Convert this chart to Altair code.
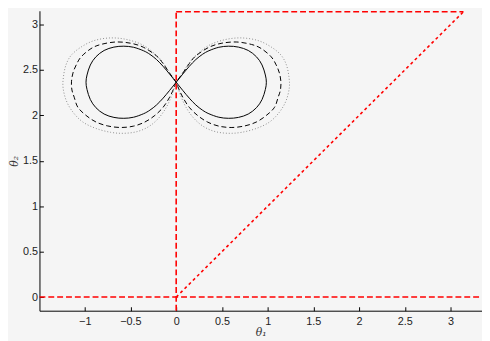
import altair as alt
import pandas as pd

# ---------------- data ----------------
x_ticks = [-1, -0.5, 0, 0.5, 1, 1.5, 2, 2.5, 3]
y_ticks = [0, 0.5, 1, 1.5, 2, 2.5, 3]
x_domain = [-1.495, 3.344]
y_domain = [-0.15, 3.152]

# solid figure-eight (traced: centre -> right lobe -> centre -> left lobe)
solid_x = [0.0, 0.072, 0.143, 0.215, 0.287, 0.358, 0.466, 0.573, 0.681, 0.788, 0.878, 0.939, 0.975, 0.986,
           0.975, 0.939, 0.878, 0.788, 0.681, 0.573, 0.466, 0.358, 0.287, 0.215, 0.143, 0.072,
           0.0, -0.072, -0.143, -0.215, -0.287, -0.358, -0.466, -0.573, -0.681, -0.788, -0.878, -0.939, -0.975, -0.986,
           -0.975, -0.939, -0.878, -0.788, -0.681, -0.573, -0.466, -0.358, -0.287, -0.215, -0.143, -0.072]
solid_y = [2.365, 2.455, 2.54, 2.615, 2.672, 2.712, 2.75, 2.762, 2.752, 2.715, 2.645, 2.555, 2.445, 2.365,
           2.285, 2.175, 2.085, 2.015, 1.978, 1.968, 1.98, 2.018, 2.058, 2.115, 2.19, 2.275,
           2.365, 2.455, 2.54, 2.615, 2.672, 2.712, 2.75, 2.762, 2.752, 2.715, 2.645, 2.555, 2.445, 2.365,
           2.285, 2.175, 2.085, 2.015, 1.978, 1.968, 1.98, 2.018, 2.058, 2.115, 2.19, 2.275]

# dashed figure-eight
dashed_x = [0.0, 0.072, 0.143, 0.215, 0.358, 0.5, 0.663, 0.824, 0.932, 1.039, 1.093, 1.129, 1.145,
            1.14, 1.115, 1.075, 0.986, 0.878, 0.753, 0.609, 0.466, 0.341, 0.233, 0.143, 0.072, 0.025,
            0.0, -0.072, -0.143, -0.215, -0.358, -0.5, -0.663, -0.824, -0.932, -1.039, -1.093, -1.129, -1.145,
            -1.14, -1.115, -1.075, -0.986, -0.878, -0.753, -0.609, -0.466, -0.341, -0.233, -0.143, -0.072, -0.025]
dashed_y = [2.365, 2.465, 2.57, 2.655, 2.75, 2.795, 2.808, 2.781, 2.735, 2.645, 2.556, 2.466, 2.37,
            2.28, 2.2, 2.089, 2.0, 1.928, 1.885, 1.867, 1.882, 1.928, 2.0, 2.089, 2.2, 2.3,
            2.365, 2.465, 2.57, 2.655, 2.75, 2.795, 2.808, 2.781, 2.735, 2.645, 2.556, 2.466, 2.37,
            2.28, 2.2, 2.089, 2.0, 1.928, 1.885, 1.867, 1.882, 1.928, 2.0, 2.089, 2.2, 2.3]

# dotted figure-eight
dotted_x = [0.0, 0.072, 0.143, 0.215, 0.358, 0.538, 0.717, 0.896, 1.039, 1.147, 1.205, 1.232,
            1.237, 1.201, 1.129, 1.022, 0.878, 0.717, 0.573, 0.43, 0.305, 0.197, 0.108, 0.043,
            0.0, -0.072, -0.143, -0.215, -0.358, -0.538, -0.717, -0.896, -1.039, -1.147, -1.205, -1.232,
            -1.237, -1.201, -1.129, -1.022, -0.878, -0.717, -0.573, -0.43, -0.305, -0.197, -0.108, -0.043]
dotted_y = [2.365, 2.47, 2.58, 2.66, 2.771, 2.835, 2.853, 2.824, 2.753, 2.663, 2.556, 2.43,
            2.305, 2.161, 2.036, 1.928, 1.857, 1.814, 1.803, 1.821, 1.874, 1.964, 2.089, 2.233,
            2.365, 2.47, 2.58, 2.66, 2.771, 2.835, 2.853, 2.824, 2.753, 2.663, 2.556, 2.43,
            2.305, 2.161, 2.036, 1.928, 1.857, 1.814, 1.803, 1.821, 1.874, 1.964, 2.089, 2.233]

# red dashed segments: y=0 line, x=0 line, y=pi line
red_x1 = [-1.495, 0.0, 0.0]
red_y1 = [0.0, -0.15, 3.1416]
red_x2 = [3.344, 0.0, 3.1416]
red_y2 = [0.0, 3.1416, 3.1416]
# red diagonal
diag_x1 = [0.0]
diag_y1 = [0.0]
diag_x2 = [3.1416]
diag_y2 = [3.1416]

# ---------------- build tables ----------------
def curve_df(xs, ys):
    return pd.DataFrame({"x": xs, "y": ys, "o": list(range(len(xs)))})

solid_df = curve_df(solid_x, solid_y)
dashed_df = curve_df(dashed_x, dashed_y)
dotted_df = curve_df(dotted_x, dotted_y)
red_df = pd.DataFrame({"x": red_x1, "y": red_y1, "x2": red_x2, "y2": red_y2})
diag_df = pd.DataFrame({"x": diag_x1, "y": diag_y1, "x2": diag_x2, "y2": diag_y2})

xs = alt.Scale(domain=x_domain, nice=False, zero=False)
ys = alt.Scale(domain=y_domain, nice=False, zero=False)

LABEL_FONT = "Liberation Sans"
TITLE_FONT = "DejaVu Serif"

main_x_axis = alt.Axis(values=x_ticks, format="~g", ticks=False, tickSize=0, grid=False, domain=True,
                       domainColor="black", domainWidth=1, labelFont=LABEL_FONT, labelFontSize=11,
                       labelColor="#222222", labelPadding=5, title="θ₁", titleFont=TITLE_FONT,
                       titleFontStyle="italic", titleFontWeight="normal", titleFontSize=11,
                       titleColor="#333333", titlePadding=0, orient="bottom")
main_y_axis = alt.Axis(values=y_ticks, format="~g", ticks=False, tickSize=0, grid=False, domain=True,
                       domainColor="black", domainWidth=1, labelFont=LABEL_FONT, labelFontSize=11,
                       labelColor="#222222", labelPadding=2, title="θ₂", titleFont=TITLE_FONT,
                       titleFontStyle="italic", titleFontWeight="normal", titleFontSize=11,
                       titleColor="#333333", titlePadding=3, orient="left")

tick_x_axis = alt.Axis(values=x_ticks, ticks=True, tickSize=4, tickColor="black", tickWidth=1,
                       domain=False, labels=False, grid=False, title="", offset=-4, orient="bottom")
tick_y_axis = alt.Axis(values=y_ticks, ticks=True, tickSize=4, tickColor="black", tickWidth=1,
                       domain=False, labels=False, grid=False, title="", offset=-4, orient="left")

solid = alt.Chart(solid_df).mark_line(
    color="black", strokeWidth=1, interpolate="cardinal-closed"
).encode(
    x=alt.X("x:Q", scale=xs, axis=main_x_axis),
    y=alt.Y("y:Q", scale=ys, axis=main_y_axis),
    order="o:Q",
)

dashed = alt.Chart(dashed_df).mark_line(
    color="black", strokeWidth=1, strokeDash=[5, 3], interpolate="cardinal-closed"
).encode(
    x=alt.X("x:Q", scale=xs, axis=None),
    y=alt.Y("y:Q", scale=ys, axis=None),
    order="o:Q",
)

dotted = alt.Chart(dotted_df).mark_line(
    color="#8c8c8c", strokeWidth=1, strokeDash=[1, 2], interpolate="cardinal-closed"
).encode(
    x=alt.X("x:Q", scale=xs, axis=None),
    y=alt.Y("y:Q", scale=ys, axis=None),
    order="o:Q",
)

red_lines = alt.Chart(red_df).mark_rule(
    color="#ff0000", strokeWidth=1.6, strokeDash=[6, 3]
).encode(
    x=alt.X("x:Q", scale=xs, axis=tick_x_axis),
    y=alt.Y("y:Q", scale=ys, axis=tick_y_axis),
    x2="x2:Q",
    y2="y2:Q",
)

diag = alt.Chart(diag_df).mark_rule(
    color="#ff0000", strokeWidth=1.6, strokeDash=[3, 3]
).encode(
    x=alt.X("x:Q", scale=xs, axis=None),
    y=alt.Y("y:Q", scale=ys, axis=None),
    x2="x2:Q",
    y2="y2:Q",
)

chart = alt.layer(dotted, dashed, solid, diag, red_lines).resolve_axis(
    x="independent", y="independent"
).properties(
    width=450,
    height=305,
    autosize=alt.AutoSizeParams(type="none"),
    padding={"left": 32, "top": 0, "right": 0, "bottom": 28},
    background="#f5f5f5",
).configure_view(strokeWidth=0)

chart.save("out.html", embed_options={"renderer": "svg", "actions": False})
